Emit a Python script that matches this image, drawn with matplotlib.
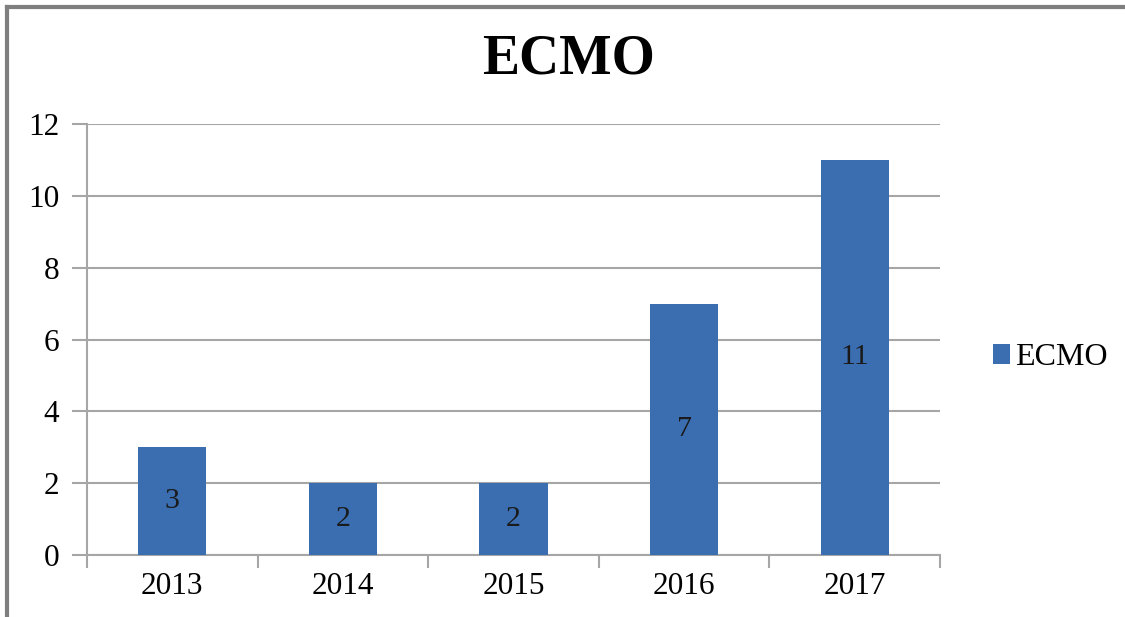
import numpy as np
import matplotlib
matplotlib.use("Agg")
import matplotlib.pyplot as plt
from matplotlib.lines import Line2D

years = ["2013", "2014", "2015", "2016", "2017"]
counts = [3, 2, 2, 7, 11]
series_name = "ECMO"

bar_color = "#3B6DB1"
grid_color = "#A6A6A6"

plt.rcParams["font.family"] = ["Liberation Serif", "DejaVu Serif"]

fig = plt.figure(figsize=(11.25, 6.17), dpi=100)
ax = fig.add_axes([0.0773, 0.1005, 0.7583, 0.6985])

x = np.arange(len(years))
bars = ax.bar(x, counts, width=0.4, color=bar_color, zorder=3, label=series_name)

# value labels in the middle of each bar
for xi, v in zip(x, counts):
    ax.text(xi, v / 2, str(v), ha="center", va="center", fontsize=21.5,
            color="#1a1a1a", zorder=4)

ax.set_xlim(-0.5, len(years) - 0.5)
ax.set_ylim(0, 12)
ax.set_yticks(np.arange(0, 13, 2))
ax.yaxis.grid(True, color=grid_color, linewidth=1.5, zorder=0)
ax.set_axisbelow(True)

# category labels between boundary ticks
ax.set_xticks(np.arange(-0.5, len(years), 1.0))
ax.set_xticklabels([])
ax.set_xticks(x, minor=True)
ax.set_xticklabels(years, minor=True, fontsize=22.5)
ax.tick_params(axis="x", which="minor", length=0, pad=12)
ax.tick_params(axis="x", which="major", length=9, width=1.5, color=grid_color)
ax.tick_params(axis="y", length=11, width=1.5, color=grid_color, labelsize=22.5, pad=9)

for side in ["top", "right"]:
    ax.spines[side].set_visible(False)
for side in ["left", "bottom"]:
    ax.spines[side].set_color(grid_color)
    ax.spines[side].set_linewidth(1.5)

fig.text(0.505, 0.903, "ECMO", ha="center", va="center", fontsize=40,
         fontweight="bold")

fig.legend(handles=[bars], labels=[series_name], loc="center left",
           bbox_to_anchor=(0.857, 0.42), frameon=False, fontsize=23,
           handlelength=0.55, handleheight=0.55, handletextpad=0.15)

# chart frame: left and top edges
fig.add_artist(Line2D([0.0062, 0.0062], [0.0, 0.988], transform=fig.transFigure,
                      color="#7F7F7F", linewidth=3))
fig.add_artist(Line2D([0.0062, 1.0], [0.988, 0.988], transform=fig.transFigure,
                      color="#7F7F7F", linewidth=3))

fig.savefig("out.png", dpi=100)
